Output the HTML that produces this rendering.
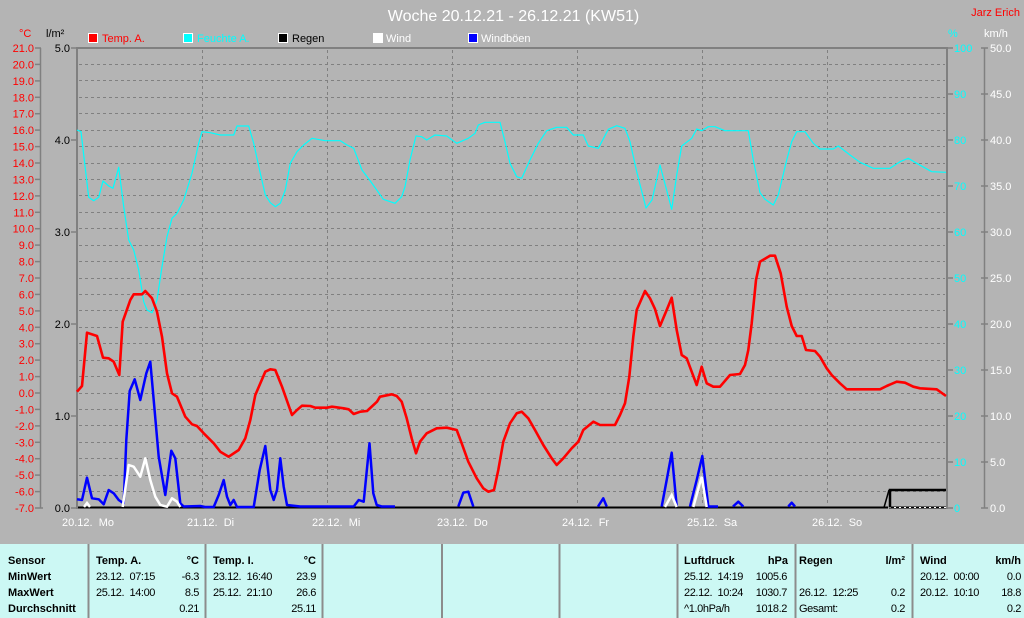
<!DOCTYPE html>
<html><head><meta charset="utf-8">
<style>
html,body{margin:0;padding:0;background:#b4b4b4;}
svg{display:block;}
text{font-family:"Liberation Sans",sans-serif;}
</style></head>
<body>
<svg width="1024" height="618" viewBox="0 0 1024 618" xmlns="http://www.w3.org/2000/svg">
<rect x="0" y="0" width="1024" height="618" fill="#b4b4b4"/>

<!-- Title -->
<text x="513.5" y="21" font-size="16" fill="#ffffff" text-anchor="middle">Woche 20.12.21 - 26.12.21 (KW51)</text>
<text x="1020" y="16" font-size="11" fill="#ff0000" text-anchor="end">Jarz Erich</text>

<!-- Legend -->
<g font-size="11">
<rect x="88.5" y="33.5" width="9" height="9" fill="#ff0000" stroke="#ffffff" stroke-width="1"/>
<text x="102" y="42" fill="#ff0000">Temp. A.</text>
<rect x="183.5" y="33.5" width="9" height="9" fill="#00ffff" stroke="#ffffff" stroke-width="1"/>
<text x="197" y="42" fill="#00ffff">Feuchte A.</text>
<rect x="278.5" y="33.5" width="9" height="9" fill="#000000" stroke="#ffffff" stroke-width="1"/>
<text x="292" y="42" fill="#000000">Regen</text>
<rect x="373.5" y="33.5" width="9" height="9" fill="#ffffff" stroke="#ffffff" stroke-width="1"/>
<text x="386" y="42" fill="#ffffff">Wind</text>
<rect x="468.5" y="33.5" width="9" height="9" fill="#0000ff" stroke="#ffffff" stroke-width="1"/>
<text x="481" y="42" fill="#ffffff">Windböen</text>
</g>

<!-- Unit labels -->
<g font-size="11">
<text x="19" y="37" fill="#ff0000">°C</text>
<text x="46" y="37" fill="#000000">l/m²</text>
<text x="948" y="37" fill="#00ffff">%</text>
<text x="984" y="37" fill="#ffffff">km/h</text>
</g>

<!-- Horizontal grid -->
<g stroke="#808080" stroke-width="1" stroke-dasharray="3,3">
<line x1="79" x2="945" y1="64.5" y2="64.5"/>
<line x1="79" x2="945" y1="80.5" y2="80.5"/>
<line x1="79" x2="945" y1="97.5" y2="97.5"/>
<line x1="79" x2="945" y1="113.5" y2="113.5"/>
<line x1="79" x2="945" y1="130.5" y2="130.5"/>
<line x1="79" x2="945" y1="146.5" y2="146.5"/>
<line x1="79" x2="945" y1="163.5" y2="163.5"/>
<line x1="79" x2="945" y1="179.5" y2="179.5"/>
<line x1="79" x2="945" y1="195.5" y2="195.5"/>
<line x1="79" x2="945" y1="212.5" y2="212.5"/>
<line x1="79" x2="945" y1="228.5" y2="228.5"/>
<line x1="79" x2="945" y1="245.5" y2="245.5"/>
<line x1="79" x2="945" y1="261.5" y2="261.5"/>
<line x1="79" x2="945" y1="278.5" y2="278.5"/>
<line x1="79" x2="945" y1="294.5" y2="294.5"/>
<line x1="79" x2="945" y1="310.5" y2="310.5"/>
<line x1="79" x2="945" y1="327.5" y2="327.5"/>
<line x1="79" x2="945" y1="343.5" y2="343.5"/>
<line x1="79" x2="945" y1="360.5" y2="360.5"/>
<line x1="79" x2="945" y1="376.5" y2="376.5"/>
<line x1="79" x2="945" y1="393.5" y2="393.5"/>
<line x1="79" x2="945" y1="409.5" y2="409.5"/>
<line x1="79" x2="945" y1="425.5" y2="425.5"/>
<line x1="79" x2="945" y1="442.5" y2="442.5"/>
<line x1="79" x2="945" y1="458.5" y2="458.5"/>
<line x1="79" x2="945" y1="475.5" y2="475.5"/>
<line x1="79" x2="945" y1="491.5" y2="491.5"/>
</g>
<!-- Vertical grid -->
<g stroke="#808080" stroke-width="1" stroke-dasharray="3,3">
<line x1="202.5" x2="202.5" y1="50" y2="506"/>
<line x1="327.5" x2="327.5" y1="50" y2="506"/>
<line x1="452.5" x2="452.5" y1="50" y2="506"/>
<line x1="577.5" x2="577.5" y1="50" y2="506"/>
<line x1="702.5" x2="702.5" y1="50" y2="506"/>
<line x1="827.5" x2="827.5" y1="50" y2="506"/>
</g>

<!-- Plot border -->
<g stroke="#808080" stroke-width="2" fill="none">
<line x1="77" y1="47" x2="77" y2="509"/>
<line x1="76" y1="48" x2="948" y2="48"/>
<line x1="947" y1="47" x2="947" y2="509"/>
</g>

<!-- Left temp axis -->
<g stroke="#808080" stroke-width="1.5">
<line x1="40.5" y1="48" x2="40.5" y2="508"/>
<line x1="35" x2="41" y1="48" y2="48"/><line x1="35" x2="41" y1="64.4" y2="64.4"/><line x1="35" x2="41" y1="80.9" y2="80.9"/><line x1="35" x2="41" y1="97.3" y2="97.3"/><line x1="35" x2="41" y1="113.7" y2="113.7"/><line x1="35" x2="41" y1="130.1" y2="130.1"/><line x1="35" x2="41" y1="146.6" y2="146.6"/><line x1="35" x2="41" y1="163" y2="163"/><line x1="35" x2="41" y1="179.4" y2="179.4"/><line x1="35" x2="41" y1="195.9" y2="195.9"/><line x1="35" x2="41" y1="212.3" y2="212.3"/><line x1="35" x2="41" y1="228.7" y2="228.7"/><line x1="35" x2="41" y1="245.1" y2="245.1"/><line x1="35" x2="41" y1="261.6" y2="261.6"/><line x1="35" x2="41" y1="278" y2="278"/><line x1="35" x2="41" y1="294.4" y2="294.4"/><line x1="35" x2="41" y1="310.9" y2="310.9"/><line x1="35" x2="41" y1="327.3" y2="327.3"/><line x1="35" x2="41" y1="343.7" y2="343.7"/><line x1="35" x2="41" y1="360.1" y2="360.1"/><line x1="35" x2="41" y1="376.6" y2="376.6"/><line x1="35" x2="41" y1="393" y2="393"/><line x1="35" x2="41" y1="409.4" y2="409.4"/><line x1="35" x2="41" y1="425.9" y2="425.9"/><line x1="35" x2="41" y1="442.3" y2="442.3"/><line x1="35" x2="41" y1="458.7" y2="458.7"/><line x1="35" x2="41" y1="475.1" y2="475.1"/><line x1="35" x2="41" y1="491.6" y2="491.6"/><line x1="35" x2="43" y1="508" y2="508"/>
</g>
<g font-size="11" fill="#ff0000" text-anchor="end">
<text x="34" y="52">21.0</text><text x="34" y="68.4">20.0</text><text x="34" y="84.9">19.0</text><text x="34" y="101.3">18.0</text><text x="34" y="117.7">17.0</text><text x="34" y="134.1">16.0</text><text x="34" y="150.6">15.0</text><text x="34" y="167">14.0</text><text x="34" y="183.4">13.0</text><text x="34" y="199.9">12.0</text><text x="34" y="216.3">11.0</text><text x="34" y="232.7">10.0</text><text x="34" y="249.1">9.0</text><text x="34" y="265.6">8.0</text><text x="34" y="282">7.0</text><text x="34" y="298.4">6.0</text><text x="34" y="314.9">5.0</text><text x="34" y="331.3">4.0</text><text x="34" y="347.7">3.0</text><text x="34" y="364.1">2.0</text><text x="34" y="380.6">1.0</text><text x="34" y="397">0.0</text><text x="34" y="413.4">-1.0</text><text x="34" y="429.9">-2.0</text><text x="34" y="446.3">-3.0</text><text x="34" y="462.7">-4.0</text><text x="34" y="479.1">-5.0</text><text x="34" y="495.6">-6.0</text><text x="34" y="512">-7.0</text>
</g>

<!-- l/m2 axis -->
<g stroke="#808080" stroke-width="1.5">
<line x1="71" x2="77" y1="48" y2="48"/><line x1="71" x2="77" y1="140" y2="140"/><line x1="71" x2="77" y1="232" y2="232"/><line x1="71" x2="77" y1="324" y2="324"/><line x1="71" x2="77" y1="416" y2="416"/><line x1="71" x2="77" y1="508" y2="508"/>
</g>
<g font-size="11" fill="#000000" text-anchor="end">
<text x="70" y="52">5.0</text><text x="70" y="144">4.0</text><text x="70" y="236">3.0</text><text x="70" y="328">2.0</text><text x="70" y="420">1.0</text><text x="70" y="512">0.0</text>
</g>

<!-- % axis -->
<g stroke="#808080" stroke-width="1.5">
<line x1="947" x2="953" y1="48" y2="48"/><line x1="947" x2="953" y1="94" y2="94"/><line x1="947" x2="953" y1="140" y2="140"/><line x1="947" x2="953" y1="186" y2="186"/><line x1="947" x2="953" y1="232" y2="232"/><line x1="947" x2="953" y1="278" y2="278"/><line x1="947" x2="953" y1="324" y2="324"/><line x1="947" x2="953" y1="370" y2="370"/><line x1="947" x2="953" y1="416" y2="416"/><line x1="947" x2="953" y1="462" y2="462"/><line x1="947" x2="953" y1="508" y2="508"/>
<line x1="984.5" x2="984.5" y1="48" y2="508"/>
<line x1="981" x2="988" y1="48" y2="48"/><line x1="981" x2="988" y1="94" y2="94"/><line x1="981" x2="988" y1="140" y2="140"/><line x1="981" x2="988" y1="186" y2="186"/><line x1="981" x2="988" y1="232" y2="232"/><line x1="981" x2="988" y1="278" y2="278"/><line x1="981" x2="988" y1="324" y2="324"/><line x1="981" x2="988" y1="370" y2="370"/><line x1="981" x2="988" y1="416" y2="416"/><line x1="981" x2="988" y1="462" y2="462"/><line x1="981" x2="988" y1="508" y2="508"/>
</g>
<g font-size="11" fill="#00ffff">
<text x="954" y="52">100</text><text x="954" y="98">90</text><text x="954" y="144">80</text><text x="954" y="190">70</text><text x="954" y="236">60</text><text x="954" y="282">50</text><text x="954" y="328">40</text><text x="954" y="374">30</text><text x="954" y="420">20</text><text x="954" y="466">10</text><text x="954" y="512">0</text>
</g>
<g font-size="11" fill="#ffffff">
<text x="990" y="52">50.0</text><text x="990" y="98">45.0</text><text x="990" y="144">40.0</text><text x="990" y="190">35.0</text><text x="990" y="236">30.0</text><text x="990" y="282">25.0</text><text x="990" y="328">20.0</text><text x="990" y="374">15.0</text><text x="990" y="420">10.0</text><text x="990" y="466">5.0</text><text x="990" y="512">0.0</text>
</g>

<!-- Day labels -->
<g font-size="11" fill="#ffffff">
<text x="62" y="526">20.12.&#160; Mo</text>
<text x="187" y="526">21.12.&#160; Di</text>
<text x="312" y="526">22.12.&#160; Mi</text>
<text x="437" y="526">23.12.&#160; Do</text>
<text x="562" y="526">24.12.&#160; Fr</text>
<text x="687" y="526">25.12.&#160; Sa</text>
<text x="812" y="526">26.12.&#160; So</text>
</g>

<!-- Baseline / rain -->
<line x1="78" y1="507.5" x2="888" y2="507.5" stroke="#000000" stroke-width="2"/>
<line x1="889" y1="507.5" x2="946" y2="507.5" stroke="#000000" stroke-width="2"/>
<line x1="889" y1="507.5" x2="946" y2="507.5" stroke="#ffffff" stroke-width="1" stroke-dasharray="2,3"/>
<polyline points="884,507.5 889,490" fill="none" stroke="#000000" stroke-width="1.5"/>
<polyline points="890,507.5 890,490 946,490" fill="none" stroke="#000000" stroke-width="2.5"/>

<!-- Windböen (blue) -->
<polyline fill="none" stroke="#0000ff" stroke-width="2.5" stroke-linejoin="round" points="77,499.3 82,500 87,477.7 92,498.3 98.7,499.3 103.7,504.3 108.7,490 113.7,493.3 118.7,500 123.7,503.3 126.3,440 129.7,391 134.7,379.3 140.3,400 146.3,373.3 150.3,361.7 153.7,400 158.7,456.7 165.3,495 171.3,450.7 175.3,458.3 180.3,503.3 183.7,506.5 200.3,506 205,507 213.7,507 218.7,495 223.7,480 227,496.7 230.3,505 233.7,500 237,507 253.7,507 259.7,470 265.3,446 270.3,490 273.7,500 277,490 280.3,458.3 283.7,486.7 287,505 300.3,506.5 353.7,506.5 358.7,500 363.7,501.7 369.5,443.3 373.3,493.3 376.7,505 381.7,506.5 395,506.5"/>
<polyline fill="none" stroke="#0000ff" stroke-width="2.5" stroke-linejoin="round" points="458.3,506.5 463.3,492.7 468.3,491.7 473.3,506.5"/>
<polyline fill="none" stroke="#0000ff" stroke-width="2.5" stroke-linejoin="round" points="598,506.5 603.3,498.3 606.7,506.5"/>
<polyline fill="none" stroke="#0000ff" stroke-width="2.5" stroke-linejoin="round" points="661.7,506.5 666.7,480 671.7,452.7 676.7,506.5"/>
<polyline fill="none" stroke="#0000ff" stroke-width="2.5" stroke-linejoin="round" points="690,506.5 696.7,480 702.3,456 708.3,506.5 718,506.5"/>
<polyline fill="none" stroke="#0000ff" stroke-width="2.5" stroke-linejoin="round" points="733,506.5 738.3,501.7 743.3,506.5"/>
<polyline fill="none" stroke="#0000ff" stroke-width="2.5" stroke-linejoin="round" points="788.3,506.5 791.7,502.7 795,506.5"/>

<!-- Wind (white) -->
<polyline fill="none" stroke="#ffffff" stroke-width="2.5" stroke-linejoin="round" points="122.7,507 128.7,465 133.7,466.7 140.3,476.7 145.3,458.3 150.3,480 155.3,496.7 160.3,505 167,506.7 172,498.3 177,501.7 180.3,507"/>
<polyline fill="none" stroke="#ffffff" stroke-width="2.5" points="84,507 87,503 90,507"/>
<polyline fill="none" stroke="#ffffff" stroke-width="2.5" points="665,507 671.7,495 676.7,507"/>
<polyline fill="none" stroke="#ffffff" stroke-width="2.5" points="693.3,507 701.7,476.7 706.7,507"/>

<!-- Feuchte (cyan) -->
<polyline fill="none" stroke="#00ffff" stroke-width="1.2" stroke-linejoin="round" points="77,130 81,131.7 84.3,160 88.7,197.3 93.7,200.7 98.7,197.3 103,181 108.7,186 113,188.3 118.7,167.3 123.7,206.7 128.7,240 133.7,250 138.7,270 143.7,301.7 147,310 152,312.7 157,300 162,266.7 167,236.7 172,218.3 177,213.3 183.7,200 192,173.3 198.7,143.3 202,131.7 210.3,132.7 220.3,135 233.7,135 237,126 248.7,126 253.7,143.3 260.3,173.3 265.3,195 270.3,202.7 275.3,206.7 280.3,203.3 285.3,190 290.3,163.3 297,151.7 303.7,145 312,138.3 325.3,140.7 340.3,140.7 347,145 353.7,148.3 362,170 370.3,181 383.3,199.3 395,203.3 401.7,196.7 405,186.7 410,160 416,136 421.7,136.7 426.7,140 435,135 446.7,136 456.7,143.3 468.3,138.3 475,133.3 478.3,125 485,122.3 500,122.3 505,141.7 510,163.3 516.7,176.7 521.7,178.3 530,160 538.3,143.3 546.7,130.7 556.7,127.3 566.7,127.3 573.3,135 583.3,135 588.3,146 598.3,148.3 608.3,129.3 616.7,125.7 625,128.3 630,141.7 636.7,171.7 646,208 652,200 660,165 671.7,209.3 676.7,175 681.7,146 691.7,138.3 696.7,129 701.7,130.7 708.3,126.7 715,126.7 725,130.7 748.3,130.7 753.3,160 760,192.7 765,199.3 773.3,205 778.3,195 786.7,160 791.7,141.7 796.7,131.7 805,131.7 813.3,143.3 820,149 833.3,149 838.3,146 850,155 860,162.3 873.3,168.3 890,168.3 900,161.7 908.3,158.3 916.7,163.3 931.7,171.7 946,172.3"/>

<!-- Temp (red) -->
<polyline fill="none" stroke="#ff0000" stroke-width="2.6" stroke-linejoin="round" points="77,391.7 82,386 87,332.7 97,336 103,357.7 108.7,358.3 113.7,361.7 119.3,375 122.7,321.7 130.3,300 133.7,294.3 142,294.3 145.3,291 152,298.3 157,311.7 162,336.7 167,373.3 172,393.3 177,396.7 185.3,416.7 192,424.3 197,426 203.7,433.3 213.7,443.3 220.3,451.7 228.7,456.7 238.7,450 245.3,438.3 250.3,420 255.3,395 265.3,371.7 270.3,369.3 275.3,370 282,386.7 292,415 297,410 302,405.7 310.3,406 315.3,407.7 327,407.7 332,406.7 343.7,408.3 348.7,409.3 353.7,414 360.3,411.7 367,411 377,401.7 380,396.7 391.7,394.3 396.7,396 401.7,401.7 406.7,418.3 411.7,438.3 416,453.3 420,441.7 426.7,433.3 436.7,428.3 446.7,427.7 456.7,430 461.7,443.3 468.3,461.7 476.7,478.3 483.3,488.3 488.3,491.7 494,490 498.3,470 503.3,441.7 510,423.3 516.7,413.3 521.7,411.7 528.3,418.3 535,430 543.3,445 551.7,458.3 556.7,465 563.3,458.3 571.7,448.3 578.3,441.7 583.3,430 593.3,421.7 600,425 615,425 620,415 625,403.3 629.3,376.7 633.3,336.7 636.7,310 645,291 650,298.3 655,309 660,326 666.7,310 671.7,297.7 676.7,330 681.7,355 686.7,358.3 691.7,371.7 696.7,385 701.7,366.7 706.7,383.3 713.3,386.7 720,386.7 730,375 740,374 745,365 748.3,350 751.7,323.3 756,280 760,261.7 770,255.7 775,255.7 780.7,273.3 786.7,306.7 791.7,326 796.7,336 801.7,336 806,350 815,351 820,356.7 826.7,368.3 831.7,375 840,383.3 846.7,389.3 880,389.3 886.7,386 896.7,381.7 905,382.7 913.3,386.7 920,388.3 936.7,389.3 946,396"/>

<!-- Bottom table -->
<rect x="0" y="544" width="1024" height="74" fill="#ccf8f4"/>
<g stroke="#8c8c8c" stroke-width="2">
<line x1="88.5" y1="544" x2="88.5" y2="618"/>
<line x1="205.5" y1="544" x2="205.5" y2="618"/>
<line x1="322.5" y1="544" x2="322.5" y2="618"/>
<line x1="442" y1="544" x2="442" y2="618"/>
<line x1="559.5" y1="544" x2="559.5" y2="618"/>
<line x1="677.5" y1="544" x2="677.5" y2="618"/>
<line x1="795.5" y1="544" x2="795.5" y2="618"/>
<line x1="912.5" y1="544" x2="912.5" y2="618"/>
</g>
<g font-size="11" font-weight="bold" fill="#000000">
<text x="8" y="564">Sensor</text>
<text x="8" y="580">MinWert</text>
<text x="8" y="596">MaxWert</text>
<text x="8" y="612">Durchschnitt</text>
<text x="96" y="564">Temp. A.</text>
<text x="199" y="564" text-anchor="end">°C</text>
<text x="213" y="564">Temp. I.</text>
<text x="316" y="564" text-anchor="end">°C</text>
<text x="684" y="564">Luftdruck</text>
<text x="788" y="564" text-anchor="end">hPa</text>
<text x="799" y="564">Regen</text>
<text x="905" y="564" text-anchor="end">l/m²</text>
<text x="920" y="564">Wind</text>
<text x="1021" y="564" text-anchor="end">km/h</text>
</g>
<g font-size="11" fill="#000000" letter-spacing="-0.4">
<text x="96" y="580">23.12.&#160; 07:15</text>
<text x="199" y="580" text-anchor="end">-6.3</text>
<text x="96" y="596">25.12.&#160; 14:00</text>
<text x="199" y="596" text-anchor="end">8.5</text>
<text x="199" y="612" text-anchor="end">0.21</text>
<text x="213" y="580">23.12.&#160; 16:40</text>
<text x="316" y="580" text-anchor="end">23.9</text>
<text x="213" y="596">25.12.&#160; 21:10</text>
<text x="316" y="596" text-anchor="end">26.6</text>
<text x="316" y="612" text-anchor="end">25.11</text>
<text x="684" y="580">25.12.&#160; 14:19</text>
<text x="787" y="580" text-anchor="end">1005.6</text>
<text x="684" y="596">22.12.&#160; 10:24</text>
<text x="787" y="596" text-anchor="end">1030.7</text>
<text x="684" y="612">^1.0hPa/h</text>
<text x="787" y="612" text-anchor="end">1018.2</text>
<text x="799" y="596">26.12.&#160; 12:25</text>
<text x="905" y="596" text-anchor="end">0.2</text>
<text x="799" y="612">Gesamt:</text>
<text x="905" y="612" text-anchor="end">0.2</text>
<text x="920" y="580">20.12.&#160; 00:00</text>
<text x="1021" y="580" text-anchor="end">0.0</text>
<text x="920" y="596">20.12.&#160; 10:10</text>
<text x="1021" y="596" text-anchor="end">18.8</text>
<text x="1021" y="612" text-anchor="end">0.2</text>
</g>
</svg>
</body></html>
